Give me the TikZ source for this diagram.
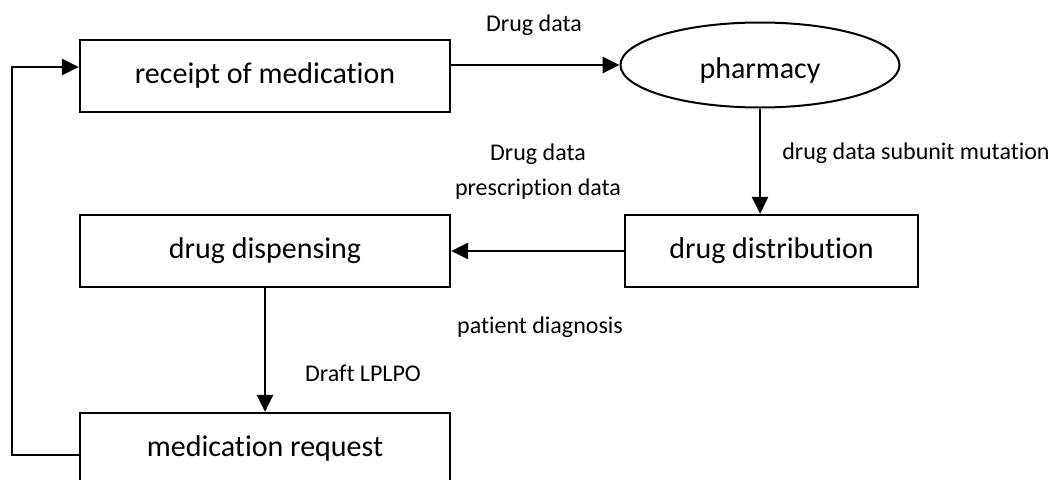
\documentclass[tikz,border=0pt]{standalone}
\usepackage{fontspec}
\setmainfont{Carlito}[RawFeature=-liga]
\usepackage{tikz}
\usetikzlibrary{shapes.geometric,arrows.meta}

\begin{document}
\begin{tikzpicture}[x=1pt,y=-1pt,
  box/.style={draw,line width=2.2pt,minimum width=370pt,minimum height=72pt,inner sep=0pt,text height=20pt,text depth=6pt,font=\fontsize{30}{36}\selectfont},
  lbl/.style={font=\fontsize{24}{35}\selectfont,align=center,inner sep=0pt},
  flow/.style={line width=2.8pt,-{Triangle[length=17pt,width=16pt]}}]
  
  \useasboundingbox (0,0) rectangle (1054,479);
  
  \node[box] (rec) at (265,76) {receipt of medication};
  \node[box,ellipse,line width=2pt,minimum width=279pt,minimum height=85pt,text height=32pt,text depth=6pt] (ph) at (760,65) {pharmacy};
  \node[box,minimum width=293pt] (dist) at (771.5,251) {drug distribution};
  \node[box] (disp) at (265,251) {drug dispensing};
  \node[box] (req) at (265,449) {medication request};
  
  \coordinate (fbtop) at (12,67);
  \coordinate (fbbot) at (12,455);
  
  \draw[flow] (rec.east |- ph.west) -- (ph.west);
  \draw[flow] (ph.south) -- (ph.south |- dist.north);
  \draw[flow] (dist.west) -- (disp.east);
  \draw[flow] (disp.south) -- (req.north);
  \draw[line width=1.4pt,line cap=rect] (req.west |- fbbot) -- (fbbot) -- (fbtop);
  \draw[flow] (fbtop) -- (rec.west |- fbtop);
  
  \node[lbl] (dd) at (534,25) {Drug data};
  \node[lbl] (mut) at (916,153) {drug data subunit mutation};
  \node[lbl] (presc) at (538,172) {Drug data\\prescription data};
  \node[lbl] (diag) at (540,327) {patient diagnosis};
  \node[lbl] (lplpo) at (363,373) {Draft LPLPO};
\end{tikzpicture}
\end{document}
